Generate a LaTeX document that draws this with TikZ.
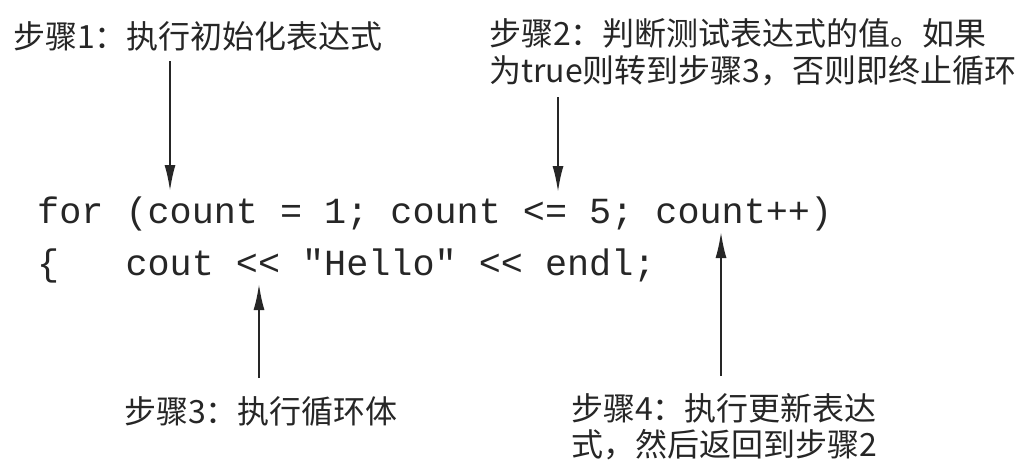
\documentclass[tikz,border=0pt]{standalone}
\usepackage{fontspec}
\setmainfont{Noto Sans CJK SC}
\newfontfamily\codefont{Liberation Mono}
\usetikzlibrary{arrows.meta}
\definecolor{ink}{HTML}{262626}
\tikzset{
  lbl/.style={inner sep=0pt, anchor=base west, text=ink, font=\fontsize{32}{39}\selectfont, align=left},
  codeline/.style={inner sep=0pt, anchor=base west, text=ink, font=\codefont\fontsize{36.8}{44}\selectfont},
  ptr/.style={draw=ink, line width=2pt, -{Latex[length=26pt,width=11pt]}}
}
\begin{document}
\begin{tikzpicture}[x=1pt,y=-1pt]
\useasboundingbox[fill=white] (0,0) rectangle (1024,474);
% labels
\node[lbl] (s1) at (13,48) {步骤1：执行初始化表达式};
\node[lbl] (s2a) at (489,45) {步骤2：判断测试表达式的值。如果};
\node[lbl] (s2b) at (489,82) {为true则转到步骤3，否则即终止循环};
\node[lbl] (s3) at (124,423) {步骤3：执行循环体};
\node[lbl] (s4a) at (571,420) {步骤4：执行更新表达};
\node[lbl] (s4b) at (571,456) {式，然后返回到步骤2};
% code
\node[codeline] (c1) at (37,223) {for (count = 1; count <= 5; count++)};
\node[codeline] (c2) at (37,275) {\{\ \ \ cout << "Hello" << endl;};
% arrow end points
\coordinate (a1s) at (170,61);
\coordinate (a1e) at (170,191);
\coordinate (a2s) at (558,97);
\coordinate (a2e) at (558,192);
\coordinate (a3s) at (259,378);
\coordinate (a3e) at (259,284);
\coordinate (a4s) at (721,376);
\coordinate (a4e) at (721,232);
\draw[ptr] (a1s) -- (a1e);
\draw[ptr] (a2s) -- (a2e);
\draw[ptr] (a3s) -- (a3e);
\draw[ptr] (a4s) -- (a4e);
\end{tikzpicture}
\end{document}
